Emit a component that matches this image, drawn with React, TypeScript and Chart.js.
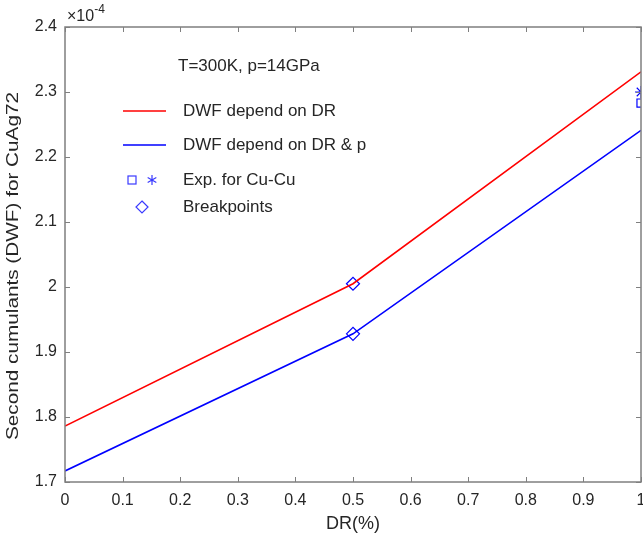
import React, { useEffect, useRef } from "react";
import { Chart, registerables } from "chart.js";

Chart.register(...registerables);

// ---- data ----
const drValues = [0, 0.5, 1];
const dwfDependDR = [1.786, 2.005, 2.331];
const dwfDependDRp = [1.717, 1.928, 2.241];
const breakpointX = [0.5, 0.5];
const breakpointY = [2.005, 1.928];
const expSquareX = [1];
const expSquareY = [2.283];
const expStarX = [1];
const expStarY = [2.3];
const xTicks = [0, 0.1, 0.2, 0.3, 0.4, 0.5, 0.6, 0.7, 0.8, 0.9, 1];
const yTicks = [1.7, 1.8, 1.9, 2.0, 2.1, 2.2, 2.3, 2.4];
const legendLabels = [
  "DWF depend on DR",
  "DWF depend on DR & p",
  "Exp. for Cu-Cu",
  "Breakpoints",
];
const annotationText = "T=300K, p=14GPa";
const xTitle = "DR(%)";
const yTitle = "Second cumulants (DWF) for CuAg72";

const FONT = "'Liberation Sans', Arial, Helvetica, sans-serif";
const TEXT = "#262626";
const AXIS = "#7f7f7f";
const RED = "#ff0000";
const BLUE = "#0000ff";

const toPts = (xs: number[], ys: number[]) => xs.map((x, i) => ({ x, y: ys[i] }));
const fmt = (v: any) => String(Number(Number(v).toFixed(1)));

function drawSquare(ctx: CanvasRenderingContext2D, x: number, y: number, h: number) {
  ctx.strokeRect(x - h, y - h, 2 * h, 2 * h);
}
function drawDiamond(ctx: CanvasRenderingContext2D, x: number, y: number, h: number) {
  ctx.beginPath();
  ctx.moveTo(x, y - h);
  ctx.lineTo(x + h, y);
  ctx.lineTo(x, y + h);
  ctx.lineTo(x - h, y);
  ctx.closePath();
  ctx.stroke();
}
function drawStar(ctx: CanvasRenderingContext2D, x: number, y: number, r: number) {
  ctx.beginPath();
  for (let k = 0; k < 3; k++) {
    const a = (Math.PI / 3) * k + Math.PI / 2;
    ctx.moveTo(x - r * Math.cos(a), y - r * Math.sin(a));
    ctx.lineTo(x + r * Math.cos(a), y + r * Math.sin(a));
  }
  ctx.stroke();
}

const decorPlugin = {
  id: "decor",
  afterDatasetsDraw(chart: any) {
    const { ctx, chartArea } = chart;
    const { left, right, top, bottom } = chartArea;
    const xs = chart.scales.x;
    const ys = chart.scales.y;
    ctx.save();
    // box
    ctx.strokeStyle = AXIS;
    ctx.lineWidth = 1.5;
    ctx.strokeRect(left, top, right - left, bottom - top);
    // inward ticks
    ctx.lineWidth = 1;
    const tl = 5;
    ctx.beginPath();
    xTicks.forEach((v) => {
      const px = Math.round(xs.getPixelForValue(v)) + 0.5;
      ctx.moveTo(px, bottom);
      ctx.lineTo(px, bottom - tl);
      ctx.moveTo(px, top);
      ctx.lineTo(px, top + tl);
    });
    yTicks.forEach((v) => {
      const py = Math.round(ys.getPixelForValue(v)) + 0.5;
      ctx.moveTo(left, py);
      ctx.lineTo(left + tl, py);
      ctx.moveTo(right, py);
      ctx.lineTo(right - tl, py);
    });
    ctx.stroke();

    // exponent label
    ctx.fillStyle = TEXT;
    ctx.textBaseline = "middle";
    ctx.textAlign = "left";
    ctx.font = `16px ${FONT}`;
    ctx.fillText("\u00d710", left + 2, 17);
    const w = ctx.measureText("\u00d710").width;
    ctx.font = `12px ${FONT}`;
    ctx.fillText("-4", left + 2 + w, 10);

    // y-axis title (rotated, slightly stretched along its length like the source)
    ctx.save();
    ctx.translate(13, 266);
    ctx.rotate(-Math.PI / 2);
    ctx.scale(1.22, 1);
    ctx.font = `17px ${FONT}`;
    ctx.textAlign = "center";
    ctx.fillText(yTitle, 0, 0);
    ctx.restore();

    // annotation
    ctx.font = `17px ${FONT}`;
    ctx.textAlign = "left";
    ctx.fillText(annotationText, 178, 66);

    // legend
    const textX = 183;
    const rows = [111, 145, 180, 207];
    ctx.lineWidth = 1.5;
    ctx.strokeStyle = RED;
    ctx.beginPath();
    ctx.moveTo(123, rows[0]);
    ctx.lineTo(166, rows[0]);
    ctx.stroke();
    ctx.strokeStyle = BLUE;
    ctx.beginPath();
    ctx.moveTo(123, rows[1]);
    ctx.lineTo(166, rows[1]);
    ctx.stroke();
    ctx.lineWidth = 1.2;
    ctx.strokeStyle = "#3a3aff";
    drawSquare(ctx, 132, rows[2], 4);
    drawStar(ctx, 152, rows[2], 5);
    drawDiamond(ctx, 142, rows[3], 6);
    ctx.fillStyle = TEXT;
    ctx.font = `17px ${FONT}`;
    legendLabels.forEach((t, i) => ctx.fillText(t, textX, rows[i]));
    ctx.restore();
  },
};

const zeroPad = (s: any, horizontal: boolean) => {
  if (horizontal) {
    s.paddingLeft = 0;
    s.paddingRight = 0;
  } else {
    s.paddingTop = 0;
    s.paddingBottom = 0;
  }
};

export default function App() {
  const ref = useRef<HTMLCanvasElement>(null);
  useEffect(() => {
    document.body.style.margin = "0";
    const canvas = ref.current!;
    const chart = new Chart(canvas, {
      type: "line",
      data: {
        datasets: [
          {
            label: legendLabels[0],
            data: toPts(drValues, dwfDependDR),
            borderColor: RED,
            borderWidth: 1.6,
            pointRadius: 0,
            tension: 0,
          },
          {
            label: legendLabels[1],
            data: toPts(drValues, dwfDependDRp),
            borderColor: BLUE,
            borderWidth: 1.6,
            pointRadius: 0,
            tension: 0,
          },
          {
            label: legendLabels[3],
            data: toPts(breakpointX, breakpointY),
            showLine: false,
            pointStyle: "rectRot",
            pointRadius: 6.5,
            pointBorderColor: BLUE,
            pointBackgroundColor: "rgba(0,0,0,0)",
            pointBorderWidth: 1.2,
          },
          {
            label: legendLabels[2] + " (square)",
            data: toPts(expSquareX, expSquareY),
            showLine: false,
            pointStyle: "rect",
            pointRadius: 5.7,
            pointBorderColor: BLUE,
            pointBackgroundColor: "rgba(0,0,0,0)",
            pointBorderWidth: 1.2,
            clip: 0,
          },
          {
            label: legendLabels[2] + " (star)",
            data: toPts(expStarX, expStarY),
            showLine: false,
            pointStyle: "star",
            pointRadius: 6,
            pointBorderColor: BLUE,
            pointBackgroundColor: "rgba(0,0,0,0)",
            pointBorderWidth: 1.2,
            clip: 0,
          },
        ],
      } as any,
      options: {
        animation: false,
        responsive: false,
        layout: { autoPadding: false, padding: { top: 27, right: 2, left: 0, bottom: 0 } },
        plugins: { legend: { display: false }, tooltip: { enabled: false } },
        scales: {
          x: {
            type: "linear",
            min: 0,
            max: 1,
            grid: { display: false, drawTicks: false },
            border: { display: false },
            afterBuildTicks: (s: any) => {
              s.ticks = xTicks.map((v) => ({ value: v }));
            },
            afterFit: (s: any) => {
              s.height = 56;
              zeroPad(s, true);
            },
            ticks: {
              color: TEXT,
              font: { family: FONT, size: 16 },
              padding: 9,
              maxRotation: 0,
              autoSkip: false,
              callback: fmt,
            },
            title: {
              display: true,
              text: xTitle,
              color: TEXT,
              font: { family: FONT, size: 18 },
              padding: { top: 0, bottom: 3 },
            },
          },
          y: {
            type: "linear",
            min: 1.7,
            max: 2.4,
            grid: { display: false, drawTicks: false },
            border: { display: false },
            afterBuildTicks: (s: any) => {
              s.ticks = yTicks.map((v) => ({ value: v }));
            },
            afterFit: (s: any) => {
              s.width = 65;
              zeroPad(s, false);
            },
            ticks: {
              color: TEXT,
              font: { family: FONT, size: 16 },
              padding: 8,
              autoSkip: false,
              callback: fmt,
            },
            title: { display: false },
          },
        },
      } as any,
      plugins: [decorPlugin],
    });
    return () => chart.destroy();
  }, []);
  return <canvas ref={ref} width={643} height={538} style={{ display: "block" }} />;
}
